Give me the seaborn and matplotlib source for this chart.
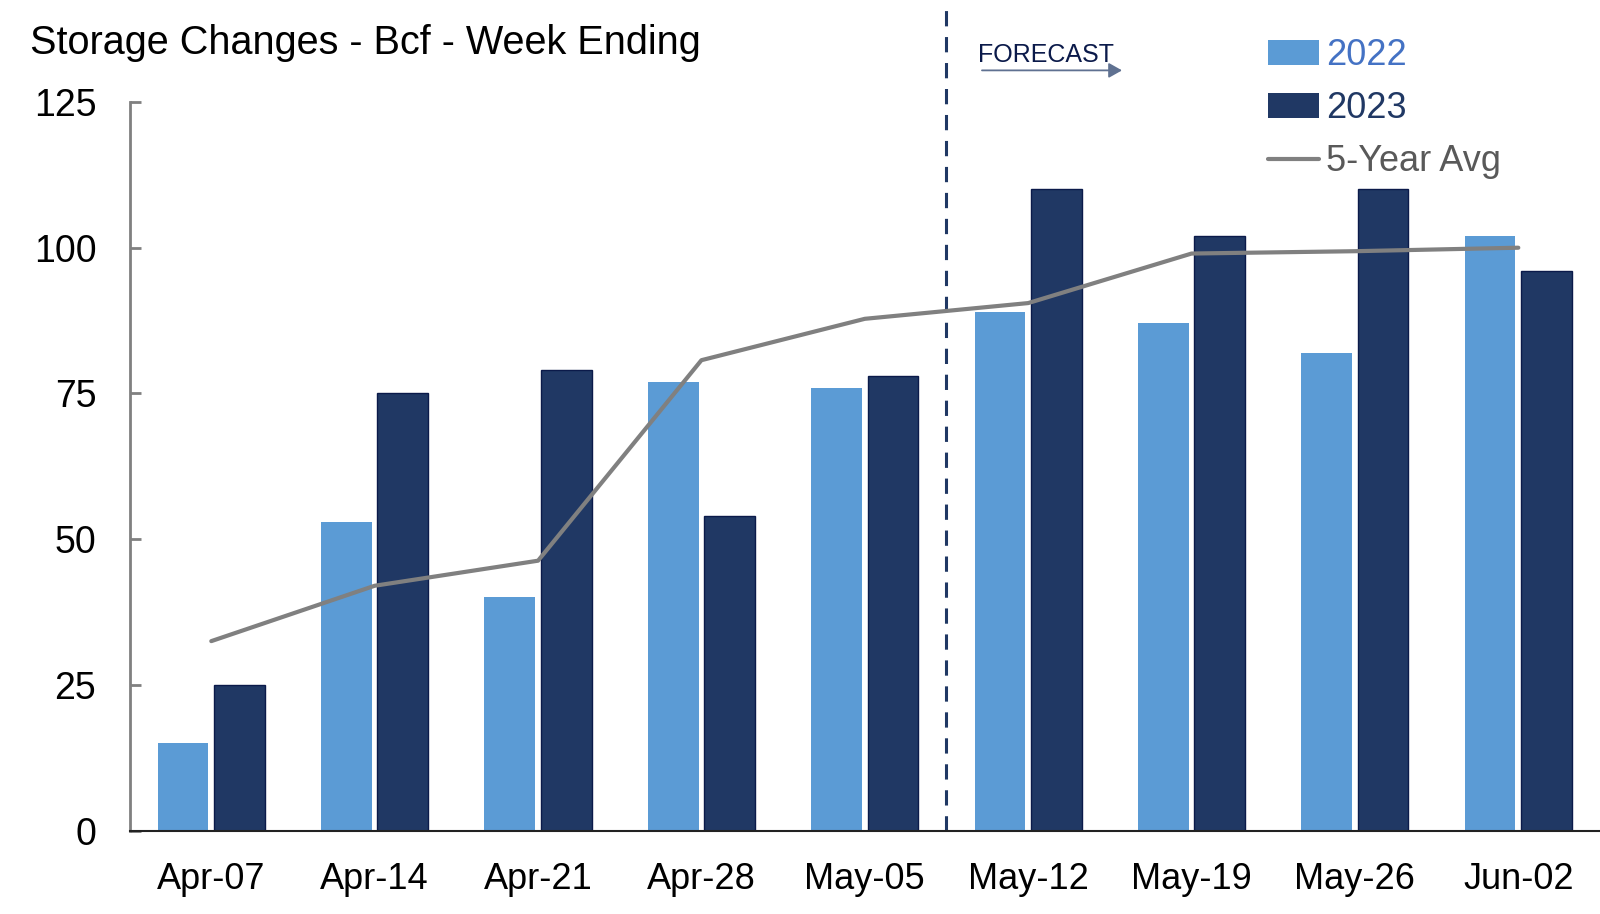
import numpy as np
import pandas as pd
import matplotlib.pyplot as plt
from matplotlib.patches import Patch
from matplotlib.lines import Line2D
import seaborn as sns

weeks = ["Apr-07", "Apr-14", "Apr-21", "Apr-28", "May-05",
         "May-12", "May-19", "May-26", "Jun-02"]
vals_2022 = [15, 53, 40, 77, 76, 89, 87, 82, 102]
vals_2023 = [25, 75, 79, 54, 78, 110, 102, 110, 96]
avg_5yr = [32.5, 42, 46.3, 80.7, 87.8, 90.5, 99, 99.4, 100]
y_ticks = [0, 25, 50, 75, 100, 125]

light = "#5B9BD5"
navy = "#203864"
grey = "#808080"

df = pd.DataFrame({
    "week": weeks * 2,
    "year": ["2022"] * len(weeks) + ["2023"] * len(weeks),
    "bcf": vals_2022 + vals_2023,
})

sns.set_style("white")
plt.rcParams["font.family"] = ["Liberation Sans", "DejaVu Sans"]
plt.rcParams["text.color"] = "black"

fig = plt.figure(figsize=(16, 9.14), dpi=100)
ax = fig.add_axes([0.081, 0.0913, 0.919, 0.9087])

sns.barplot(data=df, x="week", y="bcf", hue="year", hue_order=["2022", "2023"],
            palette=[light, navy], saturation=1, width=0.69, gap=0.1,
            legend=False, linewidth=0, ax=ax)
for bar in ax.patches[len(weeks):]:
    bar.set_edgecolor("#0b1a4a")
    bar.set_linewidth(1)

sns.lineplot(x=np.arange(len(weeks)), y=avg_5yr, color=grey, linewidth=3, ax=ax)

# forecast divider
ax.axvline(4.5, color=navy, linewidth=2.2, linestyle=(0, (5, 3.5)), zorder=1)

ax.set_xlim(-0.5, len(weeks) - 0.5)
ax.set_ylim(0, 142.5)
ax.set_yticks(y_ticks)
ax.set_xlabel("")
ax.set_ylabel("")
ax.tick_params(axis="y", direction="in", length=8, width=2, color=grey,
               labelsize=27, labelcolor="black", pad=24, left=True)
ax.tick_params(axis="x", length=0, labelsize=26, labelcolor="black", pad=23)

for side in ["top", "right"]:
    ax.spines[side].set_visible(False)
ax.spines["left"].set_bounds(0, 125)
ax.spines["left"].set_color(grey)
ax.spines["left"].set_linewidth(2)
ax.spines["bottom"].set_color("#222222")
ax.spines["bottom"].set_linewidth(1.5)

fig.text(0.019, 0.953, "Storage Changes - Bcf - Week Ending", fontsize=28.5,
         va="center", ha="left", color="black")

fig.text(0.611, 0.940, "FORECAST", fontsize=18, color="#0b1a4a", va="center",
         ha="left", family=["Liberation Sans Narrow", "Liberation Sans"])
ax.annotate("", xy=(0.703, 0.923), xytext=(0.612, 0.923),
            xycoords="figure fraction", textcoords="figure fraction",
            arrowprops=dict(arrowstyle="-|>,head_length=0.8,head_width=0.45",
                            color="#5f7191", lw=1.3))

handles = [Patch(facecolor=light, edgecolor="none"),
           Patch(facecolor=navy, edgecolor="none"),
           Line2D([0], [0], color=grey, linewidth=3)]
leg = ax.legend(handles, ["2022", "2023", "5-Year Avg"], loc="upper left",
                bbox_to_anchor=(0.7925, 0.958), bbox_transform=fig.transFigure,
                frameon=False, fontsize=26, borderpad=0, borderaxespad=0,
                handlelength=1.42, handletextpad=0.2, labelspacing=0.5)
for txt, c in zip(leg.get_texts(), ["#4472C4", navy, "#595959"]):
    txt.set_color(c)

fig.savefig("out.png", dpi=100)
